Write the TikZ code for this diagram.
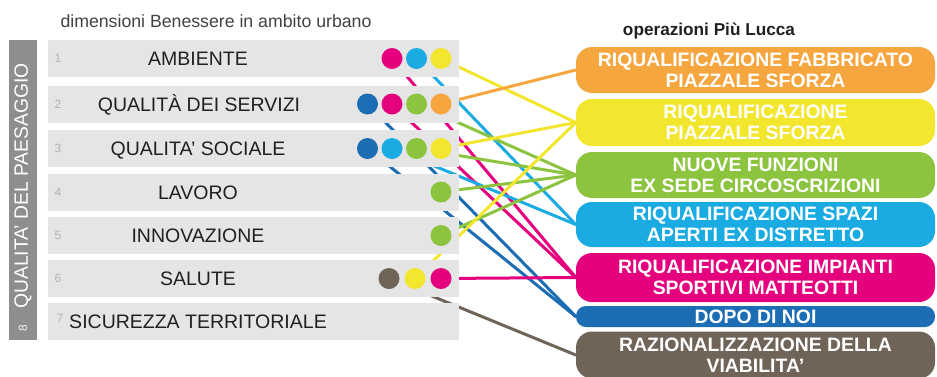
\documentclass[tikz,border=0pt]{standalone}
\usepackage{fontspec}
\setmainfont{Liberation Sans}
\usepackage{xcolor}
\usepackage{tikz}
\usetikzlibrary{positioning,calc}
\pgfdeclarelayer{bg}
\pgfsetlayers{bg,main}
\definecolor{cmag}{HTML}{E5007D}
\definecolor{ccyan}{HTML}{1AABE3}
\definecolor{cyel}{HTML}{F2E62E}
\definecolor{cgreen}{HTML}{8CC43F}
\definecolor{corange}{HTML}{F6A63F}
\definecolor{cblue}{HTML}{1C6DB3}
\definecolor{cbrown}{HTML}{6F6457}
\definecolor{rowgray}{HTML}{E5E5E5}
\definecolor{bargray}{HTML}{8E8E8E}
\definecolor{ink}{HTML}{231F20}

\begin{document}
\begin{tikzpicture}[x = 1pt, y = -1pt,
  rowbox/.style = {fill = rowgray, minimum width = 411pt, minimum height = 37pt, inner sep = 0pt},
  lbl/.style = {text = ink, inner sep = 0pt, text height = 14pt, text depth = 0pt, font = \fontsize{19.5}{21}\selectfont},
  num/.style = {text = black!30, inner sep = 0pt, font = \fontsize{12}{12}\selectfont},
  dot/.style = {circle, fill = #1, minimum size = 21pt, inner sep = 0pt},
  opbox/.style = {fill = #1, rounded corners = 16pt, minimum width = 359pt, inner sep = 0pt, align = center, text = white, font = \fontsize{19.4}{21}\selectfont\bfseries},
  link/.style = {line width = 3pt, line cap = round, #1}]
\clip (0,0) rectangle (937,376);

\node[anchor = west, text = ink!85, font = \fontsize{17.7}{18}\selectfont] (titolo) at (57,21) {dimensioni Benessere in ambito urbano};
\node[text = ink, font = \fontsize{17.2}{18}\selectfont\bfseries] (operazioni) at (709,31) {operazioni Più Lucca};

\node[fill = bargray, minimum width = 28pt, minimum height = 300pt, inner sep = 0pt] (bar) at (23,190) {};
\node[rotate = 90, text = white, font = \fontsize{19.3}{21}\selectfont] (paesaggio) at (23,186) {QUALITA' DEL PAESAGGIO};
\node[rotate = 90, text = white!85!bargray, font = \fontsize{12}{12}\selectfont] (otto) at (23,328) {8};

\node[rowbox] (r1) at (253.5,58.5) {};
\node[rowbox] (r2) at (253.5,104) {};
\node[rowbox] (r3) at (253.5,148.5) {};
\node[rowbox] (r4) at (253.5,192) {};
\node[rowbox] (r5) at (253.5,235.5) {};
\node[rowbox] (r6) at (253.5,278.5) {};
\node[rowbox] (r7) at (253.5,321.5) {};

\node[num] (n1) at (58,58.5) {1};
\node[num] (n2) at (58,104) {2};
\node[num] (n3) at (58,148.5) {3};
\node[num] (n4) at (58,192) {4};
\node[num] (n5) at (58,235.5) {5};
\node[num] (n6) at (58,278.5) {6};
\node[num] (n7) at (60,318.5) {7};

\node[lbl] (ambiente) at (198,58.5) {AMBIENTE};
\node[lbl] (servizi) at (199,104) {QUALITÀ DEI SERVIZI};
\node[lbl] (sociale) at (198,148.5) {QUALITA' SOCIALE};
\node[lbl] (lavoro) at (198,192) {LAVORO};
\node[lbl] (innovazione) at (198,235.5) {INNOVAZIONE};
\node[lbl] (salute) at (198,278.5) {SALUTE};
\node[lbl] (sicurezza) at (198,321.5) {SICUREZZA TERRITORIALE};

\node[dot = cmag] (d1m) at (392,58.5) {};
\node[dot = ccyan] (d1c) at (416.5,58.5) {};
\node[dot = cyel] (d1y) at (441,58.5) {};
\node[dot = cblue] (d2b) at (367.5,104) {};
\node[dot = cmag] (d2m) at (392,104) {};
\node[dot = cgreen] (d2g) at (416.5,104) {};
\node[dot = corange] (d2o) at (441,104) {};
\node[dot = cblue] (d3b) at (367.5,148.5) {};
\node[dot = ccyan] (d3c) at (392,148.5) {};
\node[dot = cgreen] (d3g) at (416.5,148.5) {};
\node[dot = cyel] (d3y) at (441,148.5) {};
\node[dot = cgreen] (d4g) at (441,192) {};
\node[dot = cgreen] (d5g) at (441,235.5) {};
\node[dot = cbrown] (d6n) at (389,278.5) {};
\node[dot = cyel] (d6y) at (415,278.5) {};
\node[dot = cmag] (d6m) at (441,278.5) {};

\node[opbox = corange, minimum height = 46pt] (fabbricato) at (755.5,70) {RIQUALIFICAZIONE FABBRICATO\\PIAZZALE SFORZA};
\node[opbox = cyel, minimum height = 47pt] (piazzale) at (755.5,122.5) {RIQUALIFICAZIONE\\PIAZZALE SFORZA};
\node[opbox = cgreen, minimum height = 46pt] (funzioni) at (755.5,175) {NUOVE FUNZIONI\\EX SEDE CIRCOSCRIZIONI};
\node[opbox = ccyan, minimum height = 45pt] (spazi) at (755.5,224.5) {RIQUALIFICAZIONE SPAZI\\APERTI EX DISTRETTO};
\node[opbox = cmag, minimum height = 49pt] (impianti) at (755.5,277.5) {RIQUALIFICAZIONE IMPIANTI\\SPORTIVI MATTEOTTI};
\node[opbox = cblue, minimum height = 21pt, rounded corners = 10pt] (dopo) at (755.5,316.5) {DOPO DI NOI};
\node[opbox = cbrown, minimum height = 47pt] (viabilita) at (755.5,355) {RAZIONALIZZAZIONE DELLA\\VIABILITA'};

\begin{pgfonlayer}{bg}
\draw[link = cmag] (d1m.center) -- (impianti.west);
\draw[link = ccyan] (d1c.center) -- (spazi.west);
\draw[link = cyel] (d1y.center) -- (piazzale.west);
\draw[link = cblue] (d2b.center) -- (dopo.west);
\draw[link = cmag] (d2m.center) -- (impianti.west);
\draw[link = cgreen] (d2g.center) -- (funzioni.west);
\draw[link = corange] (d2o.center) -- (fabbricato.west);
\draw[link = cblue] (d3b.center) -- (dopo.west);
\draw[link = ccyan] (d3c.center) -- (spazi.west);
\draw[link = cgreen] (d3g.center) -- (funzioni.west);
\draw[link = cyel] (d3y.center) -- (piazzale.west);
\draw[link = cgreen] (d4g.center) -- (funzioni.west);
\draw[link = cgreen] (d5g.center) -- (funzioni.west);
\draw[link = cbrown] (d6n.center) -- (viabilita.west);
\draw[link = cyel] (d6y.center) -- (piazzale.west);
\draw[link = cmag] (d6m.center) -- (impianti.west);
\end{pgfonlayer}
\end{tikzpicture}
\end{document}
